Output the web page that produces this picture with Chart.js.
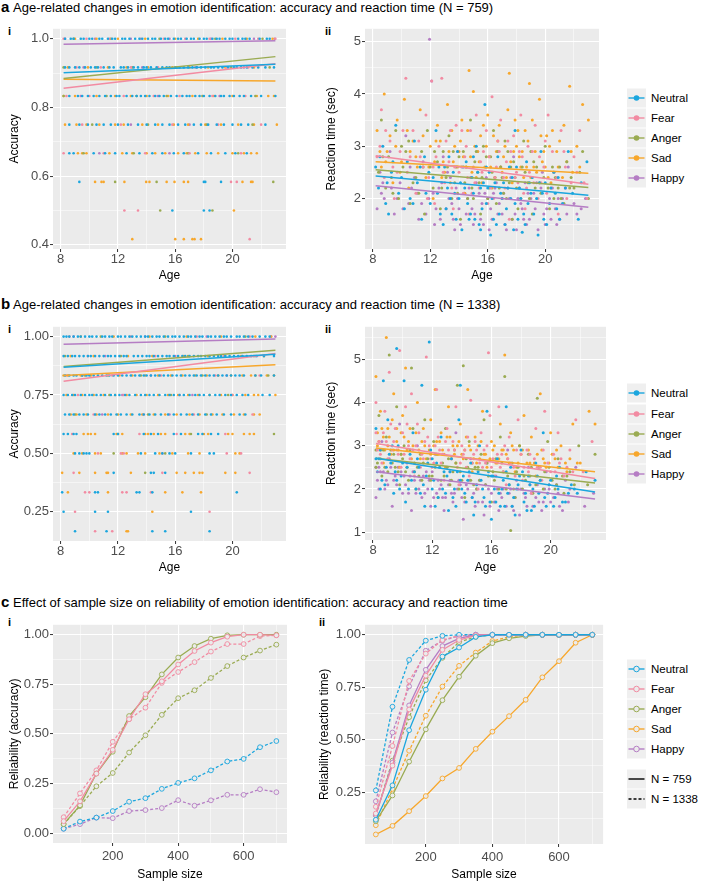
<!DOCTYPE html>
<html>
<head>
<meta charset="utf-8">
<script src="https://cdn.jsdelivr.net/npm/chart.js@4.4.1/dist/chart.umd.min.js"></script>
<style>
  body { margin: 0; background: #ffffff; font-family: "Liberation Sans", Arial, sans-serif; }
  #page { position: relative; width: 702px; height: 883px; overflow: hidden; }
  .abs { position: absolute; white-space: nowrap; color: #000; }
  .head { font-size: 13px; line-height: 13px; }
  .letter { font-size: 15px; line-height: 15px; font-weight: bold; }
  .roman { font-size: 11px; line-height: 11px; font-weight: bold; }
  .leg { position: absolute; font-size: 11.5px; line-height: 20px; height: 20px; }
  .box { position: absolute; }
</style>
</head>
<body>
<div id="page">
  <div class="abs letter" style="left:1px;top:-1px">a</div>
  <div class="abs head" style="left:13px;top:1px">Age-related changes in emotion identification: accuracy and reaction time (N = 759)</div>
  <div class="abs letter" style="left:1px;top:296px">b</div>
  <div class="abs head" style="left:13px;top:298px">Age-related changes in emotion identification: accuracy and reaction time (N = 1338)</div>
  <div class="abs letter" style="left:1px;top:594px">c</div>
  <div class="abs head" style="left:13px;top:596px">Effect of sample size on reliability of emotion identification: accuracy and reaction time</div>

  <div class="abs roman" style="left:8px;top:26px">i</div>
  <div class="abs roman" style="left:325px;top:26px">ii</div>
  <div class="abs roman" style="left:8px;top:324px">i</div>
  <div class="abs roman" style="left:325px;top:324px">ii</div>
  <div class="abs roman" style="left:8px;top:617px">i</div>
  <div class="abs roman" style="left:319px;top:617px">ii</div>

  <div class="box" style="left:0px;top:20px;width:300px;height:268px"><canvas id="accA" width="300" height="268"></canvas></div>
  <div class="box" style="left:318px;top:20px;width:290px;height:268px"><canvas id="rtA" width="290" height="268"></canvas></div>
  <div class="box" style="left:0px;top:318px;width:300px;height:268px"><canvas id="accB" width="300" height="268"></canvas></div>
  <div class="box" style="left:318px;top:318px;width:290px;height:268px"><canvas id="rtB" width="290" height="268"></canvas></div>
  <div class="box" style="left:0px;top:616px;width:300px;height:267px"><canvas id="relAcc" width="300" height="267"></canvas></div>
  <div class="box" style="left:310px;top:616px;width:298px;height:267px"><canvas id="relRt" width="298" height="267"></canvas></div>

  <div id="legA"></div>
  <div id="legB"></div>
  <div id="legC"></div>
</div>

<script>
// ---- data ----
const emotions = ["Neutral", "Fear", "Anger", "Sad", "Happy"]
const colors = ["#1BA6DE", "#F28BA2", "#9AAB52", "#F7A72C", "#B57DC4"]

// regression fits, value at age 8.2 and age 23
const fitAges = [8.2, 23]
const accFitA = [[0.901, 0.926], [0.856, 0.927], [0.884, 0.948], [0.882, 0.877], [0.984, 0.994]]
const accFitB = [[0.869, 0.925], [0.809, 0.928], [0.872, 0.942], [0.834, 0.880], [0.967, 0.990]]
const rtFitA = [[2.43, 2.06], [2.815, 2.27], [2.55, 2.21], [2.70, 2.48], [2.24, 1.83]]
const rtFitB = [[2.71, 1.93], [3.05, 2.24], [2.71, 2.14], [2.95, 2.40], [2.40, 1.77]]

// accuracy: ages of participants per number of correct trials (out of 12)
const accNeutralA = {
  12: [8.3, 8.7, 8.9, 9.4, 9.6, 10.0, 10.2, 10.7, 10.9, 11.3, 11.6, 11.8, 12.3, 12.5, 12.8, 13.2, 13.5, 13.7, 14.1, 14.4, 14.6, 15.0, 15.3, 15.5, 15.9, 16.2, 16.4, 16.8, 17.1, 17.3, 17.7, 18.0, 18.2, 18.6, 18.9, 19.1, 19.5, 19.8, 20.0, 20.4, 20.7, 20.9, 21.2, 21.9, 22.4, 22.6],
  11: [8.3, 8.6, 9.0, 9.3, 9.7, 10.1, 10.4, 10.6, 11.0, 11.4, 11.7, 12.2, 12.4, 12.7, 13.1, 13.4, 13.8, 14.0, 14.3, 14.7, 15.1, 15.4, 15.6, 16.0, 16.3, 16.6, 16.9, 17.2, 17.5, 17.8, 18.1, 18.5, 18.7, 19.0, 19.3, 19.7, 20.1, 20.3, 20.6, 21.0, 21.4, 21.8, 22.3, 22.9],
  10: [8.6, 9.2, 9.5, 9.9, 10.3, 10.7, 11.1, 11.5, 11.9, 12.1, 12.6, 13.0, 13.3, 13.6, 13.9, 14.2, 14.6, 14.9, 15.2, 15.7, 16.1, 16.5, 16.8, 17.0, 17.4, 17.7, 18.0, 18.4, 18.8, 19.2, 19.4, 19.8, 20.1, 20.5, 20.8, 21.3, 22.0, 23.0],
  9: [8.6, 9.3, 9.9, 10.5, 11.0, 11.5, 12.0, 12.7, 13.4, 14.0, 14.6, 15.1, 15.6, 16.2, 16.7, 17.3, 17.8, 18.3, 18.9, 19.4, 20.0, 20.6, 21.1, 22.3],
  8: [8.6, 8.9, 10.3, 11.1, 11.8, 12.6, 13.5, 14.4, 15.1, 15.9, 16.6, 17.6, 18.5, 19.5, 20.2, 21.0],
  7: [9.3, 18.0, 18.1, 19.2],
  6: [15.8, 18.0, 18.4],
}
const accFearA = {
  12: [8.2, 9.8, 11.4, 13.6, 15.2, 16.7, 18.4, 20.2, 21.8, 23.0],
  11: [9.1, 10.8, 12.9, 14.8, 17.4, 19.6, 21.1],
  10: [8.4, 10.0, 12.4, 14.5, 16.3, 18.6, 20.9],
  9: [9.5, 12.2, 15.8, 19.0, 22.0],
  8: [8.2, 11.0, 13.9, 17.0, 20.6],
  7: [19.9, 20.3],
  6: [12.45, 13.4],
  5: [21.2],
}
const accAngerA = {
  12: [8.9, 11.5, 14.9, 18.8, 22.1],
  11: [8.2, 10.5, 13.0, 16.1, 19.9, 22.6],
  10: [8.2, 11.2, 13.3, 15.4, 17.9, 21.6],
  9: [10.2, 14.1, 18.2, 21.4],
  8: [9.6, 13.1, 16.9, 20.4],
  7: [11.8, 14.7, 22.85],
  6: [14.95, 18.6],
}
const accSadA = {
  12: [9.0, 10.5, 12.0, 13.9, 16.0, 17.6, 19.3, 21.0, 22.8],
  11: [8.5, 9.9, 11.3, 12.6, 14.1, 15.8, 17.0, 18.3, 19.5, 21.5],
  10: [8.2, 9.0, 10.5, 11.8, 12.9, 14.0, 15.5, 17.2, 18.7, 20.0, 21.7, 22.5, 22.9],
  9: [8.3, 9.1, 9.8, 10.7, 11.8, 12.4, 13.7, 14.8, 15.9, 16.9, 18.1, 19.2, 20.4, 21.5, 23.1],
  8: [9.2, 9.5, 9.8, 11.4, 12.3, 13.0, 14.0, 14.6, 15.3, 16.2, 16.8, 17.4, 18.2, 19.0, 20.0, 20.8, 21.3, 21.7],
  7: [10.4, 10.85, 11.0, 12.45, 13.97, 14.2, 15.4, 15.95, 16.6, 16.9, 20.7, 21.3, 21.4],
  6: [20.1],
  5: [13.0, 16.0, 16.6, 17.2, 17.35, 17.8],
}
const accHappyA = {
  12: [8.3, 10.4, 12.9, 15.6, 18.5, 21.5, 22.95],
  11: [9.6, 13.7, 17.5, 20.8],
  10: [9.4, 14.8, 19.1],
  9: [12.9, 17.0],
  8: [10.7, 15.6],
}

const accNeutralB = {
  12: [8.2, 8.4, 8.6, 8.9, 9.2, 9.4, 9.7, 10.0, 10.2, 10.5, 10.9, 11.1, 11.4, 11.6, 12.0, 12.2, 12.5, 12.8, 13.0, 13.3, 13.6, 13.9, 14.1, 14.4, 14.7, 14.9, 15.2, 15.5, 15.8, 16.0, 16.3, 16.6, 16.9, 17.1, 17.4, 17.7, 17.9, 18.3, 18.5, 18.8, 19.1, 19.4, 19.6, 19.9, 20.3, 20.5, 20.8, 21.1, 21.4, 21.9, 22.3, 22.6],
  11: [8.2, 8.5, 8.8, 9.0, 9.3, 9.6, 9.9, 10.1, 10.4, 10.7, 11.0, 11.3, 11.5, 11.8, 12.1, 12.4, 12.6, 13.1, 13.4, 13.7, 14.0, 14.2, 14.5, 14.8, 15.1, 15.4, 15.6, 15.9, 16.2, 16.5, 16.7, 17.0, 17.3, 17.6, 17.8, 18.1, 18.4, 18.7, 19.0, 19.2, 19.5, 19.8, 20.1, 20.4, 20.7, 21.0, 21.3, 21.7, 22.2, 22.9],
  10: [8.3, 8.6, 8.9, 9.1, 9.5, 9.8, 10.0, 10.3, 10.6, 10.9, 11.2, 11.4, 11.7, 12.0, 12.3, 12.6, 12.9, 13.2, 13.5, 13.8, 14.0, 14.3, 14.6, 14.9, 15.2, 15.5, 15.8, 16.1, 16.4, 16.7, 17.0, 17.3, 17.5, 17.8, 18.1, 18.4, 18.7, 19.0, 19.3, 19.6, 19.9, 20.2, 20.5, 20.8, 21.6, 22.0, 22.9],
  9: [8.2, 8.5, 8.8, 9.0, 9.4, 9.7, 10.0, 10.2, 10.5, 10.8, 11.1, 11.5, 11.8, 12.1, 12.5, 12.8, 13.2, 13.6, 13.9, 14.2, 14.5, 14.9, 15.3, 15.6, 15.9, 16.3, 16.6, 17.0, 17.4, 17.7, 18.0, 18.4, 18.8, 19.1, 19.5, 19.9, 20.3, 20.7, 21.1, 22.1, 22.6],
  8: [8.3, 8.6, 8.9, 9.3, 9.6, 9.9, 10.4, 10.7, 11.1, 11.5, 11.9, 12.2, 12.6, 13.0, 13.5, 13.8, 14.2, 14.6, 15.0, 15.5, 15.9, 16.4, 16.8, 17.2, 17.6, 18.1, 18.5, 18.9, 19.4, 19.9, 20.5, 20.9],
  7: [8.2, 8.5, 8.9, 9.1, 11.7, 12.0, 13.8, 14.3, 14.8, 15.9, 16.4, 17.6, 17.9, 18.5, 19.0],
  6: [9.0, 9.3, 9.6, 9.8, 10.0, 13.6, 14.6, 15.1, 15.6, 16.0, 17.1, 18.4, 18.7],
  5: [11.7, 14.3, 14.5, 15.3],
  4: [8.1, 10.4, 10.6, 13.3, 13.5, 14.4, 20.3],
  3: [8.2, 10.4, 11.3, 17.1],
  2: [9.0, 11.2, 14.4, 15.3, 18.4],
}
const accFearB = {
  12: [8.6, 12.9, 17.5, 21.2],
  11: [9.9, 14.6, 19.4],
  10: [8.4, 11.6, 15.0, 18.8, 21.9],
  9: [9.2, 12.4, 16.3, 20.0],
  8: [10.3, 13.8, 17.3, 21.4],
  7: [8.8, 13.5, 16.1, 19.5],
  6: [10.6, 12.2, 12.4, 15.1, 19.6, 20.6],
  5: [8.9, 15.1, 21.2],
  4: [9.7, 10.0, 12.3, 12.6, 14.3],
  3: [9.0, 18.4],
  2: [10.4, 11.6],
}
const accAngerB = {
  12: [10.8, 15.3, 20.9],
  11: [8.3, 12.2, 16.9, 21.5],
  10: [9.7, 13.6, 17.9, 22.5],
  9: [11.4, 15.7, 19.7],
  8: [9.0, 14.1, 18.2],
  7: [12.0, 17.1, 22.9],
  6: [11.7, 15.3],
  5: [13.9],
}
const accSadB = {
  12: [9.4, 11.7, 14.2, 16.8, 19.2, 21.6, 22.7],
  11: [8.7, 10.3, 12.7, 14.4, 16.6, 18.3, 20.6, 22.2],
  10: [8.2, 8.5, 9.4, 10.1, 11.3, 12.1, 13.0, 13.9, 14.8, 15.7, 16.5, 17.4, 18.2, 19.0, 19.9, 20.7, 21.3, 21.6, 22.4, 22.9],
  9: [8.4, 8.9, 9.5, 10.3, 11.0, 11.8, 12.6, 13.3, 14.0, 14.8, 15.5, 16.2, 16.9, 17.6, 18.4, 19.2, 20.0, 20.9, 21.5, 21.8, 23.0],
  8: [8.7, 9.1, 9.8, 10.5, 11.3, 12.0, 12.9, 13.7, 14.5, 15.3, 16.1, 17.0, 17.7, 18.6, 19.3, 20.1, 20.8, 21.5, 21.9],
  7: [9.6, 9.9, 10.1, 10.4, 11.9, 12.3, 13.9, 14.1, 14.5, 15.0, 15.3, 16.7, 17.0, 18.0, 18.3, 19.7, 20.0, 20.8, 21.2, 21.5],
  6: [8.9, 9.5, 10.4, 10.8, 12.3, 12.6, 13.4, 13.9, 14.9, 15.8, 16.9, 17.7, 20.2, 20.5],
  5: [8.1, 9.3, 10.4, 11.2, 11.3, 12.9, 16.1, 16.7, 17.3, 17.7, 17.9, 19.5, 20.2],
  4: [8.5, 11.3, 15.3, 16.5, 17.8],
  3: [14.4],
  2: [12.6, 12.7],
}
const accHappyB = {
  12: [8.9, 13.9, 18.2, 22.7, 23.0],
  11: [11.1, 16.0, 21.6],
  10: [9.5, 14.3, 19.6],
  9: [12.3, 17.2],
  8: [10.9, 15.6],
}

// reaction time (sec): [age, rt]
const rtNeutralA = [[8.2, 2.6], [8.4, 2.2], [8.7, 3.0], [8.9, 1.9], [9.3, 2.5], [9.6, 3.4], [9.8, 2.1], [10.2, 1.8], [10.4, 2.7], [10.9, 3.1], [11.1, 2.3], [11.4, 1.6], [11.9, 2.5], [12.0, 1.9], [12.4, 3.3], [12.5, 2.1], [12.9, 1.5], [13.0, 2.6], [13.4, 2.0], [13.5, 1.7], [13.9, 2.9], [14.1, 2.3], [14.2, 1.4], [14.5, 2.7], [14.6, 1.9], [14.9, 2.4], [15.1, 1.6], [15.2, 3.0], [15.5, 2.2], [15.6, 1.8], [15.8, 3.8], [16.1, 2.5], [16.2, 1.3], [16.3, 2.0], [16.7, 2.8], [16.8, 1.7], [17.1, 2.3], [17.2, 1.5], [17.5, 2.6], [17.6, 2.0], [17.9, 3.3], [18.1, 1.6], [18.2, 2.2], [18.4, 1.35], [18.7, 2.7], [18.8, 1.9], [19.1, 2.4], [19.2, 1.7], [19.7, 2.9], [19.8, 2.1], [20.1, 1.5], [20.6, 2.5], [20.8, 1.8], [21.4, 2.2], [21.6, 2.9], [22.3, 1.6], [22.9, 2.7],
  [12.2, 2.4], [12.7, 1.7], [13.2, 2.2], [13.6, 2.5], [13.8, 1.6], [14.0, 2.0], [14.4, 2.2], [14.7, 1.6], [15.0, 2.1], [15.3, 2.5], [15.4, 1.5], [15.7, 2.3], [15.9, 1.9], [16.4, 1.6], [16.5, 2.3], [16.9, 2.1], [17.3, 1.8], [17.7, 2.4], [17.8, 1.4], [18.3, 2.0], [18.5, 1.7], [18.9, 2.3], [19.4, 2.0], [19.5, 1.3], [20.0, 2.3], [20.3, 1.9], [20.7, 2.1], [21.0, 1.6], [9.0, 2.3], [10.6, 2.0], [11.6, 2.8],
  [8.5, 2.8], [9.1, 1.7], [9.4, 2.7], [10.0, 2.4], [10.8, 1.9], [11.3, 2.6], [11.7, 2.1], [12.6, 2.6], [13.1, 1.8], [13.3, 2.8], [13.7, 2.1], [14.3, 2.6], [14.8, 1.7], [15.0, 2.8], [15.5, 1.4], [15.9, 2.6], [16.0, 2.2], [16.6, 1.5], [17.0, 2.0], [17.4, 2.2], [17.9, 1.9], [18.0, 2.6], [18.6, 1.5], [19.0, 2.1], [19.6, 2.3], [19.9, 1.6], [20.4, 2.2], [20.9, 2.4], [21.2, 1.9], [21.9, 2.1], [22.5, 2.3]]
const rtFearA = [[8.3, 2.8], [8.6, 3.7], [8.8, 2.4], [9.2, 3.1], [9.5, 2.0], [9.9, 2.9], [10.3, 4.3], [10.4, 2.5], [10.8, 3.3], [11.0, 2.1], [11.3, 2.8], [11.7, 3.6], [11.9, 2.4], [12.1, 4.25], [12.3, 1.9], [12.6, 3.0], [12.8, 4.3], [13.0, 2.3], [13.3, 2.7], [13.6, 1.8], [13.8, 3.4], [14.0, 2.5], [14.3, 2.1], [14.5, 3.0], [14.7, 1.7], [15.0, 2.6], [15.2, 3.6], [15.4, 2.2], [15.7, 2.9], [16.0, 1.9], [16.3, 3.95], [16.5, 2.4], [16.7, 3.1], [17.0, 2.0], [17.3, 2.7], [17.5, 1.6], [17.8, 3.2], [18.1, 2.3], [18.4, 2.8], [18.6, 1.8], [18.9, 2.5], [19.3, 3.4], [19.5, 2.0], [19.9, 2.6], [20.2, 3.6], [20.4, 2.2], [20.9, 1.7], [21.3, 2.9], [21.8, 2.3], [22.4, 3.3], [22.9, 2.0],
  [8.5, 3.0], [9.7, 2.5], [10.1, 3.3], [11.5, 2.6], [12.4, 2.8], [13.1, 3.1], [13.5, 2.2], [13.9, 2.9], [14.2, 3.3], [14.6, 2.4], [14.9, 2.1], [15.5, 2.7], [15.9, 3.3], [16.2, 2.2], [16.6, 2.6], [16.9, 3.5], [17.1, 2.4], [17.6, 2.9], [18.0, 2.5], [18.3, 3.6], [18.7, 2.2], [19.1, 2.9], [19.7, 2.3], [20.0, 3.1], [20.6, 2.5], [21.1, 3.3], [21.5, 2.0], [22.0, 2.8],
  [8.9, 3.3], [9.4, 2.6], [10.6, 2.8], [11.2, 3.1], [11.8, 2.0], [12.2, 2.6], [12.9, 2.5], [13.4, 3.3], [13.7, 2.6], [14.4, 2.8], [14.8, 3.3], [15.1, 2.3], [15.6, 2.5], [16.1, 2.8], [16.4, 2.0], [16.8, 2.9], [17.2, 2.2], [17.4, 3.1], [17.9, 2.4], [18.2, 2.9], [18.5, 2.1], [18.8, 3.0], [19.2, 2.3], [19.6, 2.8], [20.1, 2.1], [20.5, 2.9], [20.8, 2.4], [21.4, 2.6], [22.2, 2.5], [22.7, 2.3]]
const rtAngerA = [[8.4, 2.5], [8.6, 3.5], [8.9, 2.2], [9.1, 2.8], [9.6, 3.3], [9.8, 2.0], [10.1, 2.6], [10.5, 3.1], [10.6, 1.9], [11.0, 2.4], [11.4, 2.9], [11.6, 1.7], [11.8, 3.3], [12.2, 2.2], [12.5, 2.7], [12.7, 1.8], [13.1, 2.4], [13.3, 3.2], [13.5, 2.0], [13.8, 2.6], [14.1, 1.6], [14.3, 2.9], [14.4, 2.3], [14.8, 3.5], [15.0, 2.0], [15.3, 2.5], [15.5, 1.7], [15.9, 2.8], [16.1, 2.2], [16.4, 3.3], [16.6, 1.9], [16.9, 2.6], [17.1, 2.1], [17.4, 2.9], [17.7, 1.6], [17.9, 2.4], [18.3, 2.0], [18.5, 3.1], [18.8, 2.3], [19.1, 1.7], [19.4, 2.6], [19.7, 2.1], [20.0, 3.0], [20.3, 1.8], [20.7, 2.4], [21.1, 2.0], [21.5, 2.7], [22.0, 2.2], [22.6, 2.9], [23.0, 2.0],
  [9.3, 2.4], [10.3, 2.9], [11.2, 2.1], [12.0, 2.6], [12.9, 2.9], [13.7, 2.3], [14.0, 2.8], [14.6, 2.0], [15.1, 2.7], [15.4, 2.3], [15.7, 3.0], [16.0, 2.0], [16.3, 2.5], [16.8, 2.2], [17.2, 3.1], [17.5, 2.3], [17.8, 2.7], [18.1, 1.8], [18.6, 2.5], [19.0, 2.9], [19.3, 2.2], [19.9, 2.4], [20.5, 2.6], [20.9, 2.2], [21.3, 1.9], [21.8, 2.4],
  [8.7, 2.8], [9.4, 2.1], [10.0, 3.0], [10.8, 2.3], [11.5, 2.6], [12.3, 2.9], [12.8, 2.2], [13.2, 2.6], [13.6, 2.9], [13.9, 2.1], [14.5, 2.6], [14.9, 2.2], [15.2, 2.9], [15.6, 2.4], [16.2, 2.8], [16.5, 2.4], [16.7, 2.9], [17.0, 2.4], [17.3, 2.0], [17.6, 2.6], [18.0, 2.2], [18.4, 2.6], [18.9, 2.0], [19.2, 2.7], [19.6, 2.3], [20.2, 2.2], [20.6, 2.0], [21.0, 2.6], [21.7, 2.2], [22.4, 2.5]]
const rtSadA = [[8.3, 3.3], [8.6, 2.6], [8.8, 4.0], [9.0, 2.9], [9.4, 2.3], [9.7, 3.5], [10.0, 2.7], [10.2, 3.9], [10.5, 2.2], [10.8, 3.1], [11.1, 2.6], [11.3, 3.7], [11.7, 2.4], [12.0, 3.0], [12.2, 2.0], [12.5, 3.4], [12.9, 2.7], [13.2, 3.8], [13.4, 2.3], [13.7, 3.0], [13.9, 2.6], [14.2, 3.5], [14.4, 2.1], [14.7, 4.45], [14.8, 2.8], [15.0, 4.05], [15.2, 2.4], [15.5, 3.2], [15.8, 2.6], [16.0, 3.6], [16.3, 2.2], [16.6, 2.9], [16.8, 3.4], [17.0, 2.5], [17.4, 3.7], [17.5, 4.4], [17.7, 2.3], [18.0, 3.0], [18.3, 2.6], [18.6, 3.3], [18.9, 4.2], [19.0, 2.4], [19.3, 2.9], [19.6, 3.9], [19.8, 2.7], [20.1, 3.2], [20.4, 2.3], [20.8, 2.9], [21.3, 3.4], [21.7, 4.15], [21.9, 2.5], [22.6, 3.8], [23.0, 3.5],
  [8.9, 2.7], [9.6, 3.0], [10.6, 2.9], [11.5, 3.2], [12.3, 2.7], [12.7, 3.1], [13.0, 2.5], [13.5, 3.3], [14.0, 2.9], [14.5, 2.6], [15.1, 3.0], [15.4, 2.7], [15.7, 3.4], [16.1, 2.8], [16.4, 3.2], [16.9, 2.6], [17.2, 3.0], [17.6, 2.7], [17.9, 3.5], [18.2, 2.8], [18.5, 2.4], [18.8, 3.1], [19.2, 2.6], [19.7, 3.2], [20.0, 2.6], [20.3, 3.0], [20.6, 2.5], [21.0, 3.1], [21.5, 2.7], [22.2, 3.0],
  [8.5, 2.9], [9.2, 3.2], [9.9, 2.5], [10.4, 3.3], [11.0, 2.8], [11.9, 2.6], [12.4, 3.1], [12.8, 2.4], [13.3, 2.9], [13.6, 2.7], [14.1, 3.1], [14.3, 2.8], [14.6, 3.3], [14.9, 2.5], [15.3, 2.9], [15.6, 2.3], [15.9, 3.0], [16.2, 2.6], [16.5, 2.4], [16.7, 3.1], [17.1, 2.8], [17.3, 2.4], [17.8, 2.9], [18.1, 3.3], [18.4, 2.9], [18.7, 2.6], [19.1, 3.5], [19.4, 2.5], [19.9, 2.9], [20.2, 2.4], [20.5, 3.3], [20.9, 2.6], [21.2, 2.4], [21.8, 2.9], [22.4, 2.6]]
const rtHappyA = [[8.3, 1.8], [8.5, 2.5], [8.8, 2.0], [9.2, 2.9], [9.5, 1.7], [9.9, 2.3], [10.3, 3.2], [10.5, 1.9], [10.9, 2.4], [11.2, 1.6], [11.5, 2.7], [11.9, 2.0], [11.95, 5.05], [12.1, 4.25], [12.3, 1.5], [12.6, 2.2], [12.9, 2.8], [13.1, 1.8], [13.4, 2.4], [13.7, 1.4], [13.9, 2.0], [14.2, 2.6], [14.5, 1.7], [14.7, 2.2], [15.0, 1.5], [15.3, 2.9], [15.6, 1.9], [15.9, 2.4], [16.1, 1.4], [16.4, 2.1], [16.7, 1.7], [16.9, 2.6], [17.2, 1.5], [17.5, 2.0], [17.8, 2.8], [18.0, 1.4], [18.3, 1.9], [18.6, 2.3], [18.9, 1.6], [19.2, 2.1], [19.5, 1.4], [19.8, 2.5], [20.1, 1.8], [20.5, 2.2], [20.8, 1.5], [21.2, 2.0], [21.6, 2.6], [22.2, 1.7], [22.8, 2.0],
  [8.7, 2.3], [9.7, 2.0], [10.7, 2.2], [11.4, 1.9], [12.4, 1.8], [12.8, 2.3], [13.3, 2.0], [13.6, 1.6], [14.0, 1.8], [14.4, 2.1], [14.9, 1.8], [15.2, 2.3], [15.5, 1.6], [15.8, 2.1], [16.2, 1.8], [16.6, 2.3], [17.0, 1.7], [17.4, 2.2], [17.7, 1.6], [18.1, 2.0], [18.5, 1.6], [18.8, 2.1], [19.3, 1.8], [19.7, 2.2], [20.0, 1.5], [20.3, 2.0], [20.7, 1.8], [21.0, 1.6], [21.4, 2.2], [22.0, 1.9],
  [8.6, 2.1], [9.3, 2.2], [10.1, 1.8], [10.6, 2.6], [11.1, 2.1], [11.7, 1.7], [12.2, 2.1], [12.7, 1.6], [13.2, 2.5], [13.5, 1.9], [13.8, 2.2], [14.1, 1.5], [14.6, 2.0], [14.8, 2.4], [15.1, 1.7], [15.4, 2.1], [15.7, 1.5], [16.0, 2.0], [16.3, 1.6], [16.5, 2.2], [16.8, 1.9], [17.1, 2.1], [17.3, 1.4], [17.6, 2.4], [17.9, 1.7], [18.2, 2.2], [18.4, 1.8], [18.7, 1.5], [19.0, 2.0], [19.4, 2.3], [19.9, 1.7], [20.4, 1.6], [20.9, 2.0], [21.5, 1.7], [22.5, 1.8]]

const rtNeutralB = [[8.2, 3.4], [8.3, 2.4], [8.5, 2.9], [8.7, 4.5], [8.8, 2.1], [9.0, 3.6], [9.2, 2.6], [9.4, 1.9], [9.6, 5.25], [9.7, 3.0], [9.9, 2.3], [10.1, 4.5], [10.2, 1.7], [10.5, 2.8], [10.7, 3.3], [10.9, 2.0], [11.1, 2.5], [11.3, 4.4], [11.5, 1.6], [11.8, 5.4], [11.9, 2.9], [12.1, 2.2], [12.4, 1.8], [12.6, 3.2], [12.8, 2.4], [13.1, 1.5], [13.3, 2.7], [13.5, 2.0], [13.8, 3.6], [13.9, 4.4], [14.1, 2.3], [14.3, 1.7], [14.6, 2.6], [14.8, 1.4], [15.0, 2.1], [15.2, 3.0], [15.5, 1.8], [15.7, 3.8], [15.8, 2.4], [16.0, 1.3], [16.2, 2.0], [16.4, 2.7], [16.6, 1.6], [16.8, 2.2], [17.0, 3.9], [17.1, 1.9], [17.3, 2.5], [17.6, 1.4], [17.8, 2.1], [18.0, 2.9], [18.2, 1.7], [18.5, 2.3], [18.7, 1.5], [19.0, 2.6], [19.2, 1.9], [19.5, 3.3], [19.7, 1.6], [20.0, 2.2], [20.3, 1.8], [20.6, 2.5], [21.0, 1.7], [21.4, 2.1], [21.8, 1.9], [22.4, 2.4], [23.0, 2.2],
  [8.4, 2.7], [8.6, 2.2], [9.1, 2.8], [9.5, 2.4], [9.8, 2.0], [10.3, 2.5], [10.6, 2.2], [11.0, 2.7], [11.4, 2.1], [11.7, 2.6], [12.0, 2.0], [12.3, 2.6], [12.7, 2.0], [13.0, 2.3], [13.4, 1.8], [13.7, 2.4], [14.0, 2.0], [14.4, 2.2], [14.7, 1.8], [15.1, 2.4], [15.4, 2.0], [15.9, 1.7], [16.1, 2.3], [16.5, 1.9], [16.9, 1.6], [17.2, 2.1], [17.5, 1.8], [17.9, 2.3], [18.3, 1.9], [18.6, 2.1], [18.9, 1.6], [19.3, 2.2], [19.8, 1.9], [20.2, 1.6], [20.5, 2.0], [21.2, 1.9],
  [8.2, 2.7], [8.5, 2.0], [8.9, 2.5], [9.3, 3.0], [9.6, 2.2], [10.0, 2.6], [10.4, 2.0], [10.8, 2.4], [11.2, 1.9], [11.6, 2.3], [12.0, 2.7], [12.2, 1.6], [12.5, 2.5], [12.9, 1.9], [13.2, 2.4], [13.6, 1.6], [13.9, 2.2], [14.2, 1.9], [14.5, 2.4], [14.9, 1.7], [15.3, 2.2], [15.6, 1.6], [16.0, 2.3], [16.3, 1.7], [16.7, 2.0], [17.0, 2.4], [17.4, 1.6], [17.7, 2.0], [18.1, 2.4], [18.4, 1.5], [18.8, 2.0], [19.1, 2.3], [19.6, 1.8], [19.9, 2.1], [20.4, 2.3], [20.8, 1.7], [21.6, 2.0]]
const rtFearB = [[8.2, 4.0], [8.4, 3.1], [8.6, 2.6], [8.8, 3.8], [9.1, 4.7], [9.3, 2.9], [9.5, 3.4], [9.8, 5.2], [9.9, 2.5], [10.2, 3.9], [10.4, 3.0], [10.6, 4.2], [10.8, 2.3], [11.0, 3.5], [11.3, 2.8], [11.6, 5.05], [11.7, 3.2], [12.0, 2.5], [12.3, 4.3], [12.5, 2.9], [12.8, 2.2], [13.0, 3.4], [13.3, 2.7], [13.6, 3.9], [13.8, 2.1], [14.0, 3.0], [14.3, 2.5], [14.6, 4.05], [14.8, 2.8], [15.1, 2.0], [15.3, 3.3], [15.6, 2.6], [15.8, 5.15], [15.9, 3.7], [16.2, 2.3], [16.5, 3.9], [16.7, 2.8], [17.0, 2.1], [17.2, 3.2], [17.5, 2.5], [17.8, 3.6], [18.1, 2.2], [18.4, 2.9], [18.7, 1.9], [19.0, 3.4], [19.3, 2.5], [19.6, 3.8], [19.9, 2.1], [20.2, 2.8], [20.5, 3.3], [20.9, 2.3], [21.3, 2.9], [21.7, 3.6], [22.2, 2.4], [22.8, 3.1],
  [8.3, 2.9], [8.7, 3.3], [9.0, 2.7], [9.4, 3.1], [9.7, 2.8], [10.0, 3.3], [10.5, 2.7], [10.9, 3.0], [11.2, 2.5], [11.5, 3.1], [11.9, 2.7], [12.2, 3.0], [12.6, 2.6], [12.9, 3.1], [13.2, 2.4], [13.5, 2.9], [13.9, 2.6], [14.2, 2.9], [14.5, 2.3], [14.9, 3.1], [15.2, 2.6], [15.5, 2.9], [16.0, 2.5], [16.4, 2.8], [16.8, 2.4], [17.1, 2.7], [17.6, 2.3], [18.0, 2.8], [18.5, 2.4], [18.9, 2.7], [19.4, 2.2], [19.8, 2.6], [20.3, 2.4], [20.7, 2.7], [21.5, 2.4],
  [8.2, 3.3], [8.5, 2.8], [8.9, 3.1], [9.2, 3.5], [9.6, 2.9], [10.1, 2.8], [10.3, 3.5], [10.7, 2.9], [11.1, 3.3], [11.4, 2.7], [11.8, 3.0], [12.1, 2.6], [12.4, 3.2], [12.7, 2.8], [13.1, 2.9], [13.4, 3.1], [13.7, 2.5], [14.1, 2.8], [14.4, 3.2], [14.7, 2.6], [15.0, 2.9], [15.4, 2.5], [15.7, 3.0], [16.1, 2.7], [16.6, 2.5], [16.9, 3.0], [17.3, 2.6], [17.7, 2.9], [18.2, 2.5], [18.6, 2.8], [19.1, 2.5], [19.5, 2.9], [20.0, 2.4], [20.6, 2.6], [21.1, 2.5]]
const rtAngerB = [[8.2, 2.9], [8.4, 3.7], [8.6, 2.3], [8.9, 3.2], [9.1, 5.1], [9.3, 2.6], [9.6, 3.9], [9.8, 2.1], [10.1, 3.0], [10.3, 2.5], [10.6, 4.8], [10.7, 3.4], [10.9, 2.0], [11.2, 2.8], [11.5, 3.6], [11.8, 2.3], [12.1, 3.1], [12.4, 1.8], [12.7, 2.6], [12.9, 3.4], [13.2, 2.1], [13.5, 2.9], [13.7, 4.4], [13.9, 2.4], [14.1, 4.85], [14.2, 1.8], [14.5, 3.1], [14.7, 2.6], [15.0, 2.0], [15.3, 2.8], [15.5, 3.6], [15.8, 2.3], [16.0, 1.7], [16.3, 2.7], [16.6, 3.2], [16.9, 4.6], [17.0, 2.0], [17.3, 1.04], [17.4, 2.6], [17.6, 1.8], [17.9, 3.0], [18.2, 2.3], [18.5, 2.8], [18.8, 1.9], [19.1, 4.1], [19.2, 2.5], [19.5, 2.0], [19.8, 3.1], [20.1, 2.2], [20.5, 2.7], [20.9, 1.9], [21.3, 2.4], [21.9, 3.0], [22.5, 2.1], [23.0, 2.8],
  [8.3, 2.6], [8.7, 2.9], [9.0, 2.4], [9.4, 2.8], [9.7, 2.4], [10.0, 2.7], [10.4, 2.2], [10.8, 2.6], [11.1, 2.3], [11.4, 2.6], [11.9, 2.2], [12.2, 2.5], [12.6, 2.2], [13.0, 2.5], [13.3, 2.2], [13.6, 2.6], [14.0, 2.2], [14.4, 2.5], [14.8, 2.1], [15.1, 2.5], [15.6, 2.1], [16.1, 2.4], [16.5, 2.0], [16.8, 2.4], [17.2, 2.1], [17.7, 2.4], [18.1, 2.0], [18.6, 2.3], [19.0, 2.1], [19.6, 2.4], [20.3, 2.0], [20.8, 2.3], [21.6, 2.1],
  [8.2, 2.5], [8.5, 2.7], [8.8, 2.5], [9.2, 2.9], [9.5, 2.5], [9.9, 2.8], [10.2, 2.4], [10.5, 2.9], [11.0, 2.5], [11.3, 2.2], [11.7, 2.7], [12.0, 2.3], [12.3, 2.8], [12.8, 2.3], [13.1, 2.7], [13.4, 2.4], [13.8, 2.0], [14.3, 2.7], [14.6, 2.2], [14.9, 2.5], [15.2, 2.2], [15.7, 2.6], [16.2, 2.2], [16.7, 2.6], [17.1, 2.3], [17.5, 2.0], [17.8, 2.5], [18.3, 2.2], [18.7, 2.5], [19.3, 2.2], [19.9, 2.5], [20.4, 2.1], [21.1, 2.3]]
const rtSadB = [[8.2, 4.6], [8.3, 3.0], [8.5, 3.8], [8.7, 2.6], [8.9, 5.5], [9.0, 3.4], [9.2, 2.8], [9.4, 4.2], [9.6, 3.1], [9.8, 2.5], [10.0, 3.7], [10.2, 4.8], [10.3, 2.9], [10.5, 3.4], [10.8, 2.4], [11.0, 4.0], [11.3, 3.1], [11.6, 2.7], [11.9, 3.6], [12.2, 4.3], [12.4, 2.8], [12.6, 3.3], [12.9, 2.5], [13.1, 3.9], [13.4, 3.0], [13.6, 2.6], [13.9, 3.5], [14.2, 2.9], [14.4, 4.3], [14.7, 2.4], [14.9, 3.2], [15.2, 2.7], [15.4, 3.8], [15.7, 2.5], [16.0, 3.1], [16.3, 2.6], [16.6, 3.5], [16.9, 5.1], [17.0, 2.8], [17.3, 3.3], [17.6, 2.4], [17.9, 3.0], [18.2, 3.7], [18.4, 2.6], [18.7, 3.2], [19.0, 2.3], [19.3, 4.2], [19.4, 2.9], [19.7, 2.5], [20.0, 3.3], [20.3, 2.7], [20.7, 3.0], [21.1, 2.4], [21.5, 3.5], [22.0, 2.6], [22.6, 3.8], [23.0, 3.5],
  [8.4, 3.1], [8.6, 3.4], [8.8, 2.9], [9.1, 3.2], [9.3, 3.6], [9.7, 2.9], [9.9, 3.3], [10.4, 3.1], [10.7, 3.0], [11.1, 2.9], [11.4, 3.4], [11.8, 2.9], [12.1, 3.0], [12.5, 3.1], [12.8, 2.8], [13.2, 3.2], [13.5, 2.8], [13.8, 3.1], [14.1, 2.7], [14.5, 3.0], [14.8, 2.7], [15.1, 3.0], [15.5, 2.8], [15.9, 2.7], [16.2, 3.0], [16.5, 2.7], [16.8, 2.9], [17.2, 2.6], [17.5, 2.9], [17.8, 2.6], [18.1, 2.9], [18.6, 2.6], [19.1, 2.8], [19.6, 2.6], [20.1, 2.8], [20.5, 2.5], [21.3, 2.7],
  [8.3, 3.3], [8.5, 2.9], [8.7, 3.2], [9.0, 3.0], [9.4, 2.9], [9.6, 3.4], [9.9, 2.8], [10.1, 3.2], [10.6, 2.7], [10.9, 3.3], [11.2, 2.7], [11.5, 3.0], [11.9, 2.8], [12.3, 3.1], [12.7, 2.9], [13.0, 3.2], [13.3, 2.7], [13.7, 3.0], [14.0, 2.8], [14.3, 3.2], [14.6, 2.9], [15.0, 2.6], [15.3, 3.1], [15.6, 2.8], [16.1, 2.9], [16.4, 2.6], [16.7, 2.9], [17.1, 2.7], [17.4, 3.0], [17.7, 2.5], [18.0, 2.8], [18.5, 2.9], [18.9, 2.6], [19.5, 2.7], [19.9, 2.6], [20.4, 2.9], [21.0, 2.6], [21.8, 2.6]]
const rtHappyB = [[8.2, 1.8], [8.4, 2.5], [8.6, 3.1], [8.8, 2.0], [9.1, 2.7], [9.3, 1.6], [9.5, 2.3], [9.8, 3.5], [10.0, 1.9], [10.3, 2.6], [10.6, 1.5], [10.8, 2.2], [11.0, 3.0], [11.3, 1.8], [11.6, 2.4], [11.9, 1.6], [12.2, 2.8], [12.5, 2.0], [12.8, 1.5], [13.0, 2.5], [13.3, 1.9], [13.6, 3.3], [13.8, 2.2], [14.1, 1.3], [14.4, 2.0], [14.6, 2.7], [14.9, 1.6], [15.2, 2.2], [15.5, 1.4], [15.7, 2.6], [16.0, 1.9], [16.3, 2.3], [16.5, 1.5], [16.8, 2.0], [17.1, 2.9], [17.4, 1.6], [17.7, 2.2], [17.9, 1.4], [18.2, 1.9], [18.5, 2.5], [18.8, 1.6], [19.1, 2.1], [19.4, 1.5], [19.7, 2.4], [20.0, 1.7], [20.4, 2.1], [20.8, 1.5], [21.3, 2.0], [21.7, 2.5], [22.3, 1.6], [22.9, 1.9],
  [8.3, 2.2], [8.5, 2.4], [8.9, 2.2], [9.2, 2.5], [9.6, 2.1], [9.9, 2.4], [10.2, 2.1], [10.5, 2.3], [10.9, 1.9], [11.2, 2.2], [11.5, 1.9], [11.8, 2.2], [12.1, 1.8], [12.4, 2.2], [12.7, 1.8], [13.1, 2.1], [13.4, 1.7], [13.7, 2.0], [14.0, 1.8], [14.3, 2.1], [14.7, 1.8], [15.0, 2.0], [15.4, 1.7], [15.8, 2.0], [16.2, 1.7], [16.6, 1.9], [17.0, 1.6], [17.3, 2.0], [17.6, 1.8], [18.0, 2.0], [18.4, 1.6], [18.7, 1.9], [19.2, 1.7], [19.6, 2.0], [20.2, 1.8], [20.6, 1.6], [21.0, 2.2],
  [8.2, 2.5], [8.4, 2.0], [8.7, 2.4], [9.0, 2.1], [9.4, 2.2], [9.7, 2.5], [10.1, 2.3], [10.4, 1.9], [10.7, 2.4], [11.1, 2.0], [11.4, 2.3], [11.7, 2.0], [12.0, 2.4], [12.3, 1.9], [12.6, 2.1], [12.9, 1.8], [13.2, 2.2], [13.5, 1.9], [13.9, 2.1], [14.2, 1.7], [14.5, 2.2], [14.8, 1.9], [15.1, 1.7], [15.6, 2.1], [15.9, 1.6], [16.4, 2.0], [16.7, 1.8], [17.2, 1.9], [17.5, 1.5], [17.8, 2.0], [18.3, 1.8], [18.6, 2.1], [19.0, 1.8], [19.5, 1.7], [19.9, 2.0], [20.5, 1.9], [21.2, 1.7]]

// reliability by sample size
const sampleSizes = [50, 100, 150, 200, 250, 300, 350, 400, 450, 500, 550, 600, 650, 700]
const relAccFear759 = [0.06, 0.16, 0.30, 0.42, 0.574, 0.70, 0.765, 0.85, 0.918, 0.96, 0.99, 1.0, 1.0, 0.997]
const relAccAnger759 = [0.045, 0.14, 0.30, 0.41, 0.59, 0.685, 0.80, 0.885, 0.943, 0.98, 0.997, 1.0, 1.0, 1.0]
const relAccNeutral1338 = [0.022, 0.058, 0.078, 0.111, 0.158, 0.176, 0.223, 0.253, 0.276, 0.316, 0.361, 0.374, 0.433, 0.464]
const relAccFear1338 = [0.08, 0.20, 0.316, 0.46, 0.574, 0.632, 0.757, 0.812, 0.862, 0.915, 0.953, 0.953, 0.993, 0.997]
const relAccAnger1338 = [0.045, 0.136, 0.236, 0.303, 0.406, 0.493, 0.596, 0.68, 0.72, 0.782, 0.842, 0.885, 0.92, 0.95]
const relAccHappy1338 = [0.022, 0.045, 0.078, 0.075, 0.111, 0.116, 0.126, 0.166, 0.138, 0.165, 0.193, 0.193, 0.221, 0.206]

const relRtNeutral759 = [0.118, 0.282, 0.545, 0.738, 0.896, 0.939, 0.99, 1.0, 1.0, 1.0, 1.0, 1.0, 1.0, 1.0]
const relRtFear759 = [0.148, 0.376, 0.644, 0.805, 0.928, 0.975, 0.997, 1.0, 1.0, 1.0, 1.0, 1.0, 1.0, 1.0]
const relRtAnger759 = [0.111, 0.234, 0.395, 0.549, 0.688, 0.80, 0.90, 0.96, 0.983, 0.994, 1.0, 1.0, 1.0, 1.0]
const relRtSad759 = [0.048, 0.089, 0.159, 0.231, 0.315, 0.365, 0.456, 0.538, 0.612, 0.69, 0.797, 0.874, 0.962, 1.0]
const relRtHappy759 = [0.14, 0.39, 0.663, 0.833, 0.946, 0.983, 1.0, 1.0, 1.0, 1.0, 1.0, 1.0, 1.0, 1.0]
const relRtNeutral1338 = [0.258, 0.657, 0.88, 0.972, 0.995, 1.0, 1.0, 1.0, 1.0, 1.0, 1.0, 1.0, 1.0, 1.0]
const relRtFear1338 = [0.18, 0.47, 0.78, 0.91, 0.975, 0.995, 1.0, 1.0, 1.0, 1.0, 1.0, 1.0, 1.0, 1.0]
const relRtAnger1338 = [0.14, 0.40, 0.607, 0.783, 0.89, 0.965, 0.99, 1.0, 1.0, 1.0, 1.0, 1.0, 1.0, 1.0]
const relRtSad1338 = [0.092, 0.265, 0.447, 0.614, 0.753, 0.852, 0.915, 0.97, 0.99, 1.0, 1.0, 1.0, 1.0, 1.0]
const relRtHappy1338 = [0.206, 0.534, 0.754, 0.924, 0.972, 0.995, 1.0, 1.0, 1.0, 1.0, 1.0, 1.0, 1.0, 1.0]

// ---- helpers ----
const FONT = "'Liberation Sans', Arial, sans-serif"
const PANEL_BG = "#EBEBEB"

const panelBg = {
  id: "panelBg",
  beforeDraw(chart) {
    const { ctx, chartArea: a } = chart
    ctx.save()
    ctx.fillStyle = PANEL_BG
    ctx.fillRect(a.left, a.top, a.right - a.left, a.bottom - a.top)
    ctx.restore()
  },
}

function axis({ horizontal, min, max, major, minor, fmt, title, size, tickPad, titlePad }) {
  const values = major.concat(minor).sort((a, b) => a - b)
  const isMajor = (v) => major.some((m) => Math.abs(m - v) < 1e-9)
  return {
    type: "linear",
    position: horizontal ? "bottom" : "left",
    min: min,
    max: max,
    afterBuildTicks: (scale) => {
      scale.ticks = values.map((v) => ({ value: v }))
    },
    afterFit: (scale) => {
      if (horizontal) scale.height = size
      else scale.width = size
    },
    grid: {
      color: "#ffffff",
      lineWidth: (ctx) => (ctx.tick && isMajor(ctx.tick.value) ? 1.1 : 0.5),
      tickColor: (ctx) => (ctx.tick && isMajor(ctx.tick.value) ? "#333333" : "rgba(0,0,0,0)"),
      tickWidth: 1,
      tickLength: 3,
      drawTicks: true,
    },
    border: { display: false },
    ticks: {
      autoSkip: false,
      maxRotation: 0,
      padding: tickPad,
      color: "#4D4D4D",
      font: { family: FONT, size: 13 },
      callback: (v) => (isMajor(v) ? fmt(v) : ""),
    },
    title: {
      display: true,
      text: title,
      color: "#000000",
      font: { family: FONT, size: 12 },
      padding: horizontal ? { top: 0, bottom: titlePad } : { top: titlePad, bottom: 0 },
    },
  }
}

const ageAxis = (size, titlePad, tickPad) =>
  axis({ horizontal: true, min: 7.46, max: 23.74, major: [8, 12, 16, 20], minor: [10, 14, 18, 22], fmt: (v) => String(v), title: "Age", size, tickPad, titlePad })

const sizeAxis = (size, titlePad, tickPad) =>
  axis({ horizontal: true, min: 17.5, max: 732.5, major: [200, 400, 600], minor: [100, 300, 500, 700], fmt: (v) => String(v), title: "Sample size", size, tickPad, titlePad })

function accPoints(obj) {
  const pts = []
  Object.keys(obj).forEach((k) => {
    obj[k].forEach((age) => pts.push({ x: age, y: Number(k) / 12 }))
  })
  return pts
}

const pairPoints = (arr) => arr.map((p) => ({ x: p[0], y: p[1] }))
const seriesPoints = (vals) => vals.map((v, i) => ({ x: sampleSizes[i], y: v }))

function fitDatasets(fits) {
  return fits.map((f, i) => ({
    data: [{ x: fitAges[0], y: f[0] }, { x: fitAges[1], y: f[1] }],
    showLine: true,
    borderColor: colors[i],
    borderWidth: 1.5,
    pointRadius: 0,
    order: 0,
  }))
}

function scatterDatasets(sets, radius) {
  return sets.map((pts, i) => ({
    data: pts,
    showLine: false,
    pointRadius: radius,
    pointBorderWidth: 0,
    pointBackgroundColor: colors[i],
    pointHoverRadius: radius,
    order: 1 + i,
  }))
}

function relLine(vals, idx, dashed) {
  return {
    data: seriesPoints(vals),
    showLine: true,
    borderColor: colors[idx],
    borderWidth: 1.3,
    borderDash: dashed ? [3, 2] : [],
    pointRadius: 2.4,
    pointBorderWidth: 0.9,
    pointBorderColor: colors[idx],
    pointBackgroundColor: PANEL_BG,
    tension: 0,
    order: dashed ? 2 : 1,
  }
}

function makeChart(id, datasets, xScale, yScale, padding) {
  return new Chart(document.getElementById(id), {
    type: "scatter",
    data: { datasets: datasets },
    options: {
      responsive: false,
      animation: false,
      devicePixelRatio: 1,
      layout: { padding: padding },
      plugins: { legend: { display: false }, tooltip: { enabled: false } },
      scales: { x: xScale, y: yScale },
    },
    plugins: [panelBg],
  })
}

// ---- panel a ----
makeChart(
  "accA",
  fitDatasets(accFitA).concat(scatterDatasets([accNeutralA, accFearA, accAngerA, accSadA, accHappyA].map(accPoints), 1.3)),
  ageAxis(39, 4.8, 0),
  axis({ min: 0.388, max: 1.029, major: [0.4, 0.6, 0.8, 1.0], minor: [0.5, 0.7, 0.9], fmt: (v) => v.toFixed(1), title: "Accuracy", size: 53, tickPad: 1, titlePad: 7.8 }),
  { top: 6, right: 14, left: 0, bottom: 0 }
)
makeChart(
  "rtA",
  fitDatasets(rtFitA).concat(scatterDatasets([rtNeutralA, rtFearA, rtAngerA, rtSadA, rtHappyA].map(pairPoints), 1.5)),
  ageAxis(39, 4.8, 0),
  axis({ min: 1.03, max: 5.25, major: [2, 3, 4, 5], minor: [1.5, 2.5, 3.5, 4.5], fmt: (v) => String(v), title: "Reaction time (sec)", size: 47, tickPad: 1, titlePad: 6.8 }),
  { top: 6, right: 9, left: 0, bottom: 0 }
)

// ---- panel b ----
makeChart(
  "accB",
  fitDatasets(accFitB).concat(scatterDatasets([accNeutralB, accFearB, accAngerB, accSadB, accHappyB].map(accPoints), 1.3)),
  ageAxis(45, 10.8, 0),
  axis({ min: 0.125, max: 1.042, major: [0.25, 0.5, 0.75, 1.0], minor: [0.375, 0.625, 0.875], fmt: (v) => v.toFixed(2), title: "Accuracy", size: 53, tickPad: 1, titlePad: 7.8 }),
  { top: 6, right: 14, left: 0, bottom: 0 }
)
makeChart(
  "rtB",
  fitDatasets(rtFitB).concat(scatterDatasets([rtNeutralB, rtFearB, rtAngerB, rtSadB, rtHappyB].map(pairPoints), 1.5)),
  ageAxis(46, 10.8, 0),
  axis({ min: 0.82, max: 5.75, major: [1, 2, 3, 4, 5], minor: [1.5, 2.5, 3.5, 4.5, 5.5], fmt: (v) => String(v), title: "Reaction time (sec)", size: 47, tickPad: 1, titlePad: 6.8 }),
  { top: 5, right: 2, left: 0, bottom: 0 }
)

// ---- panel c ----
makeChart(
  "relAcc",
  [
    relLine(relAccFear759, 1, false),
    relLine(relAccAnger759, 2, false),
    relLine(relAccNeutral1338, 0, true),
    relLine(relAccFear1338, 1, true),
    relLine(relAccAnger1338, 2, true),
    relLine(relAccHappy1338, 4, true),
  ],
  sizeAxis(40, 0.8, 3),
  axis({ min: -0.05, max: 1.05, major: [0, 0.25, 0.5, 0.75, 1.0], minor: [0.125, 0.375, 0.625, 0.875], fmt: (v) => v.toFixed(2), title: "Reliability (accuracy)", size: 53, tickPad: 1, titlePad: 7.8 }),
  { top: 6, right: 13, left: 0, bottom: 0 }
)
makeChart(
  "relRt",
  [
    relLine(relRtNeutral759, 0, false),
    relLine(relRtFear759, 1, false),
    relLine(relRtAnger759, 2, false),
    relLine(relRtSad759, 3, false),
    relLine(relRtHappy759, 4, false),
    relLine(relRtNeutral1338, 0, true),
    relLine(relRtFear1338, 1, true),
    relLine(relRtAnger1338, 2, true),
    relLine(relRtSad1338, 3, true),
    relLine(relRtHappy1338, 4, true),
  ],
  sizeAxis(39, 0.8, 3),
  axis({ min: 0.0025, max: 1.0475, major: [0.25, 0.5, 0.75, 1.0], minor: [0.125, 0.375, 0.625, 0.875], fmt: (v) => v.toFixed(2), title: "Reliability (reaction time)", size: 55, tickPad: 1, titlePad: 7.8 }),
  { top: 6, right: 3, left: 0, bottom: 0 }
)

// ---- legends ----
function keySvg(color, kind) {
  let mark = ""
  if (kind === "filled") mark = `<circle cx="9.5" cy="10" r="2.8" fill="${color}"/>`
  if (kind === "open") mark = `<circle cx="9.5" cy="10" r="2.8" fill="${PANEL_BG}" stroke="${color}" stroke-width="1"/>`
  const dash = kind === "dashed" ? ` stroke-dasharray="3 2"` : ""
  return `<svg width="19" height="20" style="position:absolute;left:0;top:0">
    <rect x="0" y="0.5" width="19" height="19" fill="#EFEFEF"/>
    <line x1="1.5" y1="10" x2="17.5" y2="10" stroke="${color}" stroke-width="1.4"${dash}/>${mark}</svg>`
}

function legend(el, centers, labels, keyColors, kinds) {
  const host = document.getElementById(el)
  centers.forEach((cy, i) => {
    const item = document.createElement("div")
    item.className = "leg"
    item.style.left = "627px"
    item.style.top = cy - 10 + "px"
    item.style.width = "75px"
    item.innerHTML = keySvg(keyColors[i], kinds[i]) + `<span style="position:absolute;left:24px;top:0">${labels[i]}</span>`
    host.appendChild(item)
  })
}

legend("legA", [98, 118, 138, 158, 178], emotions, colors, ["filled", "filled", "filled", "filled", "filled"])
legend("legB", [393, 414, 434, 454, 474], emotions, colors, ["filled", "filled", "filled", "filled", "filled"])
legend("legC", [669, 689, 709, 729, 749], emotions, colors, ["open", "open", "open", "open", "open"])
legend("legC", [779, 799], ["N = 759", "N = 1338"], ["#000000", "#000000"], ["solid", "dashed"])
</script>
</body>
</html>
